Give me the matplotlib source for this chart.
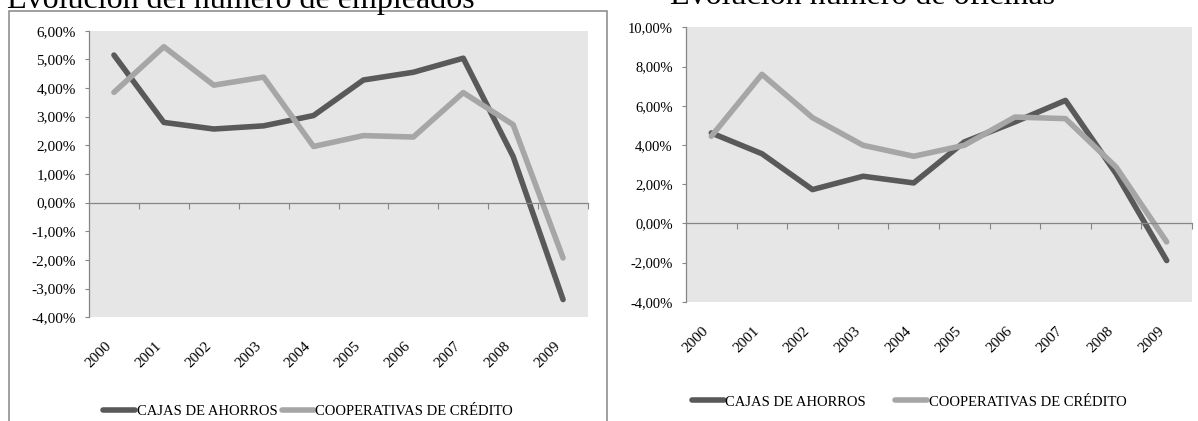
import matplotlib
matplotlib.use("Agg")
import matplotlib.pyplot as plt
from matplotlib.patches import Rectangle
from matplotlib.ticker import FuncFormatter
import numpy as np

plt.rcParams['font.family'] = ['Liberation Serif', 'DejaVu Serif']

# datos (en %)
years = ['2000', '2001', '2002', '2003', '2004', '2005', '2006', '2007', '2008', '2009']
empleados_cajas = [5.15, 2.80, 2.57, 2.68, 3.04, 4.28, 4.55, 5.04, 1.61, -3.38]
empleados_coop = [3.85, 5.44, 4.10, 4.38, 1.96, 2.34, 2.29, 3.84, 2.72, -1.93]
oficinas_cajas = [4.61, 3.55, 1.72, 2.40, 2.06, 4.15, 5.17, 6.27, 2.53, -1.90]
oficinas_coop = [4.44, 7.60, 5.39, 3.98, 3.42, 3.98, 5.42, 5.34, 2.87, -0.95]
series_names = ['CAJAS DE AHORROS', 'COOPERATIVAS DE CRÉDITO']

dark = '#595959'
light = '#a6a6a6'
axis_gray = '#868686'

W, H = 1198, 421
fig = plt.figure(figsize=(W / 100, H / 100), dpi=100)


def pct(v, pos):
    return ('%.2f' % v).replace('.', ',') + '%'


def panel(rect, cajas, coop, ylim, ystep):
    ax = fig.add_axes(rect)
    ax.set_facecolor('#e6e6e6')
    x = np.arange(len(years))
    l1, = ax.plot(x, cajas, color=dark, lw=4.0, solid_joinstyle='round',
                  solid_capstyle='round', label=series_names[0])
    l2, = ax.plot(x, coop, color=light, lw=4.0, solid_joinstyle='round',
                  solid_capstyle='round', label=series_names[1])
    ax.set_xlim(-0.5, len(years) - 0.5)
    ax.set_ylim(*ylim)
    ax.set_yticks(np.arange(ylim[0], ylim[1] + 0.01, ystep))
    ax.yaxis.set_major_formatter(FuncFormatter(pct))
    ax.tick_params(axis='y', length=3, width=0.8, color=axis_gray, pad=6.5,
                   labelsize=11)
    for s in ['top', 'right']:
        ax.spines[s].set_visible(False)
    ax.spines['left'].set_color(axis_gray)
    ax.spines['left'].set_linewidth(0.9)
    # eje horizontal en el 0
    ax.spines['bottom'].set_position(('data', 0))
    ax.spines['bottom'].set_color(axis_gray)
    ax.spines['bottom'].set_linewidth(0.9)
    ax.set_xticks(x + 0.5)
    ax.set_xticklabels([])
    ax.tick_params(axis='x', length=4.5, width=0.8, color=axis_gray)
    # etiquetas de los años abajo
    sec = ax.secondary_xaxis('bottom')
    sec.spines['bottom'].set_visible(False)
    sec.set_xticks(x)
    sec.set_xticklabels(years)
    sec.tick_params(length=0, pad=16, labelsize=11)
    for lab in sec.get_xticklabels():
        lab.set_rotation(45)
        lab.set_ha('right')
    return ax, l1, l2


ax1, a1, b1 = panel([89 / W, 1 - 317.3 / H, 499 / W, 286.6 / H],
                    empleados_cajas, empleados_coop, (-4, 6), 1)
ax2, a2, b2 = panel([686 / W, 1 - 301.7 / H, 506 / W, 274.4 / H],
                    oficinas_cajas, oficinas_coop, (-4, 10), 2)
ax2.tick_params(axis='y', labelsize=10.5)

fig.legend([a1, b1], series_names, loc='center', bbox_to_anchor=(308 / W, 1 - 411 / H),
           ncol=2, frameon=False, fontsize=10.5, handlelength=2.2, handletextpad=0.1,
           columnspacing=0.3, borderpad=0, borderaxespad=0)
fig.legend([a2, b2], series_names, loc='center', bbox_to_anchor=(909 / W, 1 - 402 / H),
           ncol=2, frameon=False, fontsize=10.5, handlelength=2.2, handletextpad=0.1,
           columnspacing=2.0, borderpad=0, borderaxespad=0)

# titulos (cortados arriba en la imagen original)
fig.text(7 / W, 1 - 8 / H, 'Evolución del número de empleados', fontsize=23,
         ha='left', va='baseline')
fig.text(670 / W, 1 - 4 / H, 'Evolución número de oficinas', fontsize=23,
         ha='left', va='baseline')

# marco del grafico izquierdo
fig.add_artist(Rectangle((9 / W, -0.05), (607 - 9) / W, 1.05 - 11 / H,
                         transform=fig.transFigure, fill=False,
                         edgecolor=axis_gray, lw=1.1))

fig.savefig('out.png', dpi=100)
